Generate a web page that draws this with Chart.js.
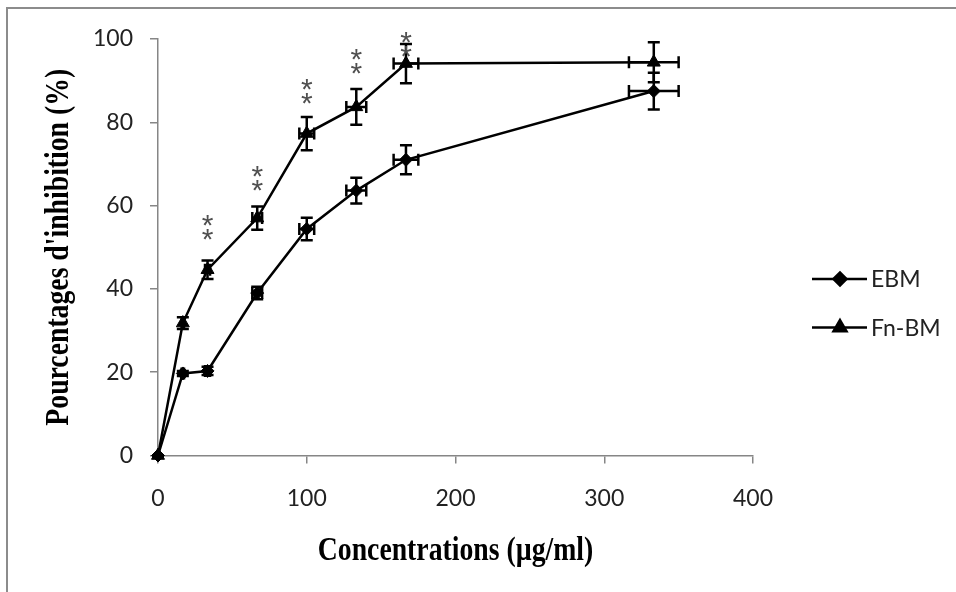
<!DOCTYPE html>
<html>
<head>
<meta charset="utf-8">
<script src="https://cdn.jsdelivr.net/npm/chart.js@4/dist/chart.umd.min.js"></script>
<style>
  html, body { margin: 0; padding: 0; background: #fff; }
  #wrap { position: relative; width: 956px; height: 592px; overflow: hidden; }
  #cadre { position: absolute; left: 6px; top: 7px; width: 1000px; height: 700px;
           border-left: 2.5px solid #8c8c8c; border-top: 2.5px solid #8c8c8c; }
  canvas { position: absolute; left: 0; top: 0; }
</style>
</head>
<body>
<div id="wrap">
  <div id="cadre"></div>
  <canvas id="myChart" width="956" height="592"></canvas>
</div>
<script>
// concentrations (µg/ml)
let conc = [0, 16.7, 33.3, 66.7, 100, 133.3, 166.7, 333.3];
let concErr = [0, 0.8, 1.7, 3.3, 5, 6.7, 8.3, 16.7];

// % d'inhibition
let ebm = [0, 19.7, 20.3, 39.0, 54.4, 63.6, 71.0, 87.5];
let ebmErr = [0, 0.6, 1.0, 1.5, 2.7, 3.1, 3.5, 4.4];
let fnbm = [0, 31.8, 44.6, 57.0, 77.3, 83.7, 94.1, 94.4];
let fnbmErr = [0, 1.4, 2.2, 2.8, 4.0, 4.3, 4.7, 4.8];

// étoiles de signification (x, niveau de l'étoile du bas)
let starConc = [33.3, 66.7, 100, 133.3, 166.7];
let starLevel = [53.7, 65.4, 86.3, 93.5, 97.5];

let xTicks = [0, 100, 200, 300, 400];
let yTicks = [0, 20, 40, 60, 80, 100];

const gris = '#868686';
const police = "Lato, 'Liberation Sans', sans-serif";

function points(ys) {
  return conc.map((c, i) => ({ x: c, y: ys[i] }));
}

// barres d'erreur en x et y
const errorBars = {
  id: 'errorBars',
  afterDatasetsDraw(chart) {
    let ctx = chart.ctx;
    let xs = chart.scales.x, ys = chart.scales.y;
    ctx.save();
    ctx.strokeStyle = '#000';
    ctx.lineWidth = 2.5;
    chart.data.datasets.forEach(ds => {
      ds.data.forEach((p, i) => {
        let px = xs.getPixelForValue(p.x);
        let py = ys.getPixelForValue(p.y);
        let ey = ds.errY[i], ex = concErr[i];
        if (ey > 0) {
          let t = ys.getPixelForValue(p.y + ey), b = ys.getPixelForValue(p.y - ey);
          ctx.beginPath();
          ctx.moveTo(px, t); ctx.lineTo(px, b);
          ctx.moveTo(px - 6, t); ctx.lineTo(px + 6, t);
          ctx.moveTo(px - 6, b); ctx.lineTo(px + 6, b);
          ctx.stroke();
        }
        if (ex > 0) {
          let l = xs.getPixelForValue(p.x - ex), r = xs.getPixelForValue(p.x + ex);
          ctx.beginPath();
          ctx.moveTo(l, py); ctx.lineTo(r, py);
          ctx.moveTo(l, py - 6); ctx.lineTo(l, py + 6);
          ctx.moveTo(r, py - 6); ctx.lineTo(r, py + 6);
          ctx.stroke();
        }
      });
    });
    ctx.restore();
  }
};

// les ** au-dessus de Fn-BM
const etoiles = {
  id: 'etoiles',
  afterDraw(chart) {
    let ctx = chart.ctx;
    ctx.save();
    ctx.fillStyle = '#505050';
    ctx.font = "30px 'Liberation Sans', sans-serif";
    ctx.textAlign = 'center';
    ctx.textBaseline = 'alphabetic';
    starConc.forEach((c, i) => {
      let px = chart.scales.x.getPixelForValue(c);
      let py = chart.scales.y.getPixelForValue(starLevel[i]);
      ctx.fillText('*', px, py + 17);
      ctx.fillText('*', px, py + 3);
    });
    ctx.restore();
  }
};

// titres des axes, police serif grasse un peu condensée
const titres = {
  id: 'titres',
  afterDraw(chart) {
    let ctx = chart.ctx;
    let a = chart.chartArea;
    ctx.save();
    ctx.fillStyle = '#000';
    ctx.font = "bold 33px 'Liberation Serif', serif";
    ctx.textAlign = 'center';
    ctx.textBaseline = 'middle';

    ctx.save();
    ctx.translate((a.left + a.right) / 2, 551);
    ctx.scale(0.84, 1);
    ctx.fillText('Concentrations (µg/ml)', 0, 0);
    ctx.restore();

    ctx.save();
    ctx.translate(59, (a.top + a.bottom) / 2);
    ctx.rotate(-Math.PI / 2);
    ctx.scale(0.84, 1);
    ctx.fillText("Pourcentages d'inhibition (%)", 0, 0);
    ctx.restore();
    ctx.restore();
  }
};

// légende à droite
const legende = {
  id: 'legende',
  afterDraw(chart) {
    let ctx = chart.ctx;
    let rows = [279, 327.5];
    ctx.save();
    chart.data.datasets.forEach((ds, i) => {
      let y = rows[i];
      ctx.strokeStyle = '#000';
      ctx.lineWidth = 2.5;
      ctx.beginPath();
      ctx.moveTo(812, y); ctx.lineTo(867, y);
      ctx.stroke();
      ctx.fillStyle = '#000';
      Chart.helpers.drawPoint(ctx, {
        pointStyle: ds.pointStyle, radius: ds.pointRadius, rotation: 0, borderWidth: 1
      }, 840, y);
      ctx.fillStyle = '#222';
      ctx.font = '23px ' + police;
      ctx.textAlign = 'left';
      ctx.textBaseline = 'middle';
      ctx.fillText(ds.label, 871, y + 1);
    });
    ctx.restore();
  }
};

let ctx = document.getElementById('myChart').getContext('2d');
let chart = new Chart(ctx, {
  type: 'line',
  data: {
    datasets: [{
      label: 'EBM',
      data: points(ebm),
      errY: ebmErr,
      borderColor: '#000',
      backgroundColor: '#000',
      borderWidth: 2.5,
      pointStyle: 'rectRot',
      pointRadius: 6.5,
      pointBorderWidth: 1,
      tension: 0,
      clip: false
    }, {
      label: 'Fn-BM',
      data: points(fnbm),
      errY: fnbmErr,
      borderColor: '#000',
      backgroundColor: '#000',
      borderWidth: 2.5,
      pointStyle: 'triangle',
      pointRadius: 7.5,
      pointBorderWidth: 1,
      tension: 0,
      clip: false
    }]
  },
  options: {
    responsive: false,
    animation: false,
    events: [],
    layout: { padding: { left: 0, top: 39, right: 203, bottom: 0 } },
    plugins: { legend: { display: false }, tooltip: { enabled: false } },
    scales: {
      x: {
        type: 'linear',
        min: 0, max: 400,
        afterBuildTicks: s => { s.ticks = xTicks.map(v => ({ value: v })); },
        afterFit: s => { s.height = 136.5; },
        grid: { drawOnChartArea: false, drawTicks: true, tickLength: 8, color: gris, lineWidth: 1.5 },
        border: { color: gris, width: 1.5 },
        ticks: { padding: 21, color: '#222', font: { family: police, size: 23 } }
      },
      y: {
        min: 0, max: 100,
        afterBuildTicks: s => { s.ticks = yTicks.map(v => ({ value: v })); },
        afterFit: s => { s.width = 158; },
        grid: { drawOnChartArea: false, drawTicks: true, tickLength: 8, color: gris, lineWidth: 1.5 },
        border: { color: gris, width: 1.5 },
        ticks: { padding: 17, color: '#222', font: { family: police, size: 23 } }
      }
    }
  },
  plugins: [errorBars, etoiles, titres, legende]
});
</script>
</body>
</html>
